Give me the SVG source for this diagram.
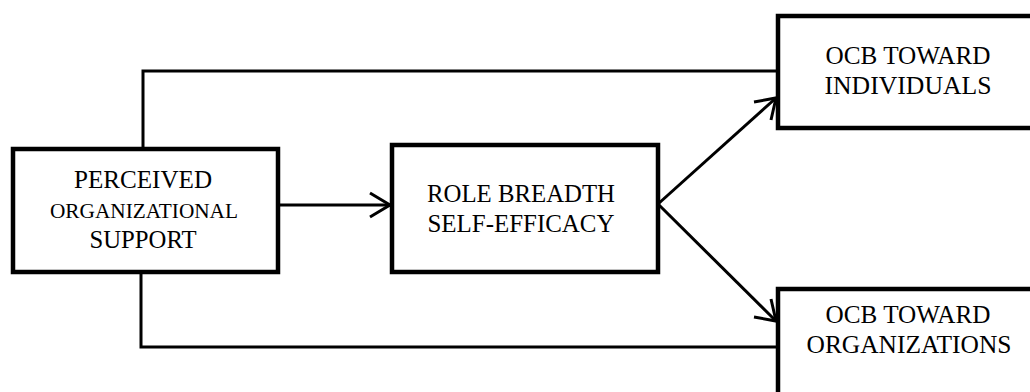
<svg xmlns="http://www.w3.org/2000/svg" width="1030" height="392" viewBox="0 0 1030 392">
<style>
.box{fill:#fff;stroke:#000;stroke-width:4.5}
.ln{fill:none;stroke:#000;stroke-width:3}
.ah{fill:none;stroke:#000;stroke-width:3;stroke-linejoin:miter}
text{font-family:"Liberation Serif","Times New Roman",serif;fill:#000;text-anchor:middle}
.t{font-size:25px}
.s{font-size:22px}
</style>
<rect width="1030" height="392" fill="#fff"/>
<g id="connectors">
<polyline class="ln" points="143,150 143,71 778,71"/>
<polyline class="ln" points="141,272 141,347 778,347"/>
<line class="ln" x1="278" y1="205" x2="390" y2="205"/>
<polyline class="ah" points="370,193 390,205 370,217"/>
<line class="ln" x1="658" y1="204" x2="776" y2="98"/>
<polyline class="ah" points="754,102 776,98 771,120"/>
<line class="ln" x1="658" y1="204" x2="776" y2="321"/>
<polyline class="ah" points="771,299 776,321 754,317"/>
</g>
<g id="pos">
<rect class="box" x="13" y="149" width="265" height="123"/>
<text class="t" x="143" y="188" textLength="138" lengthAdjust="spacingAndGlyphs">PERCEIVED</text>
<text class="s" x="144" y="218" textLength="188" lengthAdjust="spacingAndGlyphs">ORGANIZATIONAL</text>
<text class="t" x="143" y="248" textLength="107" lengthAdjust="spacingAndGlyphs">SUPPORT</text>
</g>
<g id="rbse">
<rect class="box" x="392" y="145" width="266" height="127"/>
<text class="t" x="521" y="202" textLength="188" lengthAdjust="spacingAndGlyphs">ROLE BREADTH</text>
<text class="t" x="521" y="232" textLength="187" lengthAdjust="spacingAndGlyphs">SELF-EFFICACY</text>
</g>
<g id="ocb-ind">
<rect class="box" x="778" y="16" width="270" height="112"/>
<text class="t" x="908" y="64" textLength="165" lengthAdjust="spacingAndGlyphs">OCB TOWARD</text>
<text class="t" x="908" y="94" textLength="167" lengthAdjust="spacingAndGlyphs">INDIVIDUALS</text>
</g>
<g id="ocb-org">
<rect class="box" x="778" y="289" width="270" height="120"/>
<text class="t" x="908" y="323" textLength="165" lengthAdjust="spacingAndGlyphs">OCB TOWARD</text>
<text class="t" x="909" y="353" textLength="205" lengthAdjust="spacingAndGlyphs">ORGANIZATIONS</text>
</g>
</svg>
